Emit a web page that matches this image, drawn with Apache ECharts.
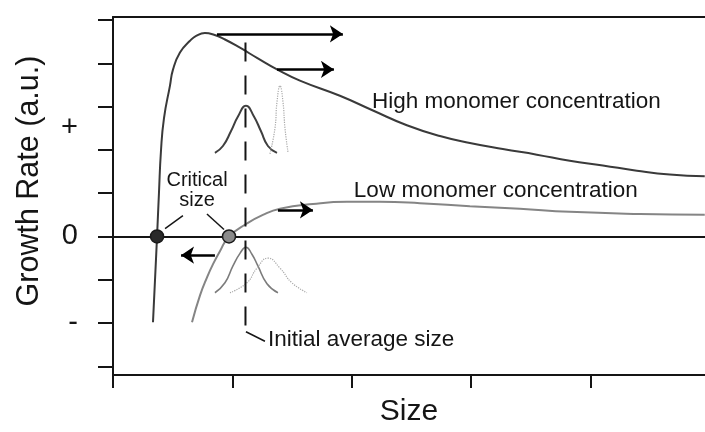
<!DOCTYPE html>
<html>
<head>
<meta charset="utf-8">
<script src="https://cdn.jsdelivr.net/npm/echarts@6/dist/echarts.min.js"></script>
<style>
  html, body { margin: 0; padding: 0; background: #fff; }
  #chart { width: 705px; height: 432px; }
</style>
</head>
<body>
<div id="chart"></div>
<script>
// Growth rate (arbitrary units) versus particle size
const highMonomer = [
  [0.335, -1.98], [0.352, -1.00], [0.369, 0], [0.385, 1.00], [0.402, 1.98],
  [0.427, 2.73], [0.477, 3.48], [0.503, 3.86], [0.561, 4.25], [0.645, 4.52],
  [0.700, 4.64], [0.770, 4.70], [0.846, 4.66], [0.938, 4.55], [1.064, 4.36],
  [1.210, 4.12], [1.374, 3.86], [1.566, 3.60], [1.901, 3.25], [2.178, 2.91],
  [2.462, 2.57], [2.739, 2.32], [2.990, 2.16], [3.266, 2.02], [3.551, 1.89],
  [3.827, 1.75], [4.104, 1.64], [4.389, 1.52], [4.665, 1.43], [4.958, 1.39]
];
const lowMonomer = [
  [0.662, -1.98], [0.729, -1.36], [0.787, -0.95], [0.838, -0.64], [0.896, -0.34],
  [0.972, 0], [1.122, 0.30], [1.256, 0.50], [1.399, 0.64], [1.675, 0.75],
  [1.960, 0.80], [2.236, 0.80], [2.571, 0.77], [2.990, 0.70], [3.409, 0.64],
  [3.827, 0.57], [4.414, 0.52], [4.958, 0.50]
];

// Size distributions sketched above / below the axis
const distHighInitial = [
  [0.854, 1.93], [0.921, 2.09], [0.988, 2.43], [1.047, 2.77], [1.114, 3.02],
  [1.181, 2.77], [1.240, 2.43], [1.298, 2.09], [1.374, 1.93]
];
const distHighLater = [
  [1.315, 1.91], [1.357, 2.50], [1.374, 3.11], [1.399, 3.48],
  [1.424, 3.11], [1.441, 2.50], [1.466, 1.95]
];
const distLowInitial = [
  [0.854, -1.30], [0.938, -1.07], [1.005, -0.68], [1.064, -0.39], [1.114, -0.25],
  [1.164, -0.41], [1.214, -0.68], [1.290, -1.09], [1.382, -1.30]
];
const distLowLater = [
  [0.980, -1.30], [1.122, -1.07], [1.206, -0.73], [1.298, -0.50],
  [1.399, -0.73], [1.499, -1.07], [1.625, -1.30]
];

// Initial average size marker
const initialSizeLine = [[1.110, 4.48], [1.110, -2.20]];
const initialSizeLeader = [[1.114, -2.20], [1.273, -2.42]];

// Critical sizes (zero growth rate)
const criticalPoints = [[0.369, 0], [0.972, 0]];
const criticalLeaders = [
  [[0.436, 0.18], [0.586, 0.48]],
  [[0.787, 0.52], [0.930, 0.16]]
];

// Direction of size change
const growthArrows = [
  [[0.871, 4.68], [1.926, 4.68]],
  [[1.374, 3.86], [1.851, 3.86]],
  [[1.382, 0.614], [1.675, 0.614]],
  [[0.854, -0.432], [0.570, -0.432]]
];

// Text annotations: [x, y, text]
const notesRight = [
  [2.169, 3.11, 'High monomer concentration'],
  [2.018, 1.05, 'Low monomer concentration'],
  [1.298, -2.39, 'Initial average size']
];
const notesCenter = [[0.704, 1.07, 'Critical\nsize']];

// Axis ticks and labels
const yTicks = [-3, -2, -1, 0, 1, 2, 3, 4, 5];
const yLabelValues = [2.5, 0, -2];
const yLabelText = { '2.5': '+', '0': '0', '-2': '-' };
const xTicks = [0, 1, 2, 3, 4];

const FONT = '"Liberation Sans", Arial, Helvetica, sans-serif';
const INK = '#151515';

const chart = echarts.init(document.getElementById('chart'), null, { renderer: 'canvas' });

const curve = (name, data, color, width, type, smooth) => ({
  name, type: 'line', data, smooth: smooth === undefined ? 0.5 : smooth,
  showSymbol: false, silent: true, z: 3,
  lineStyle: { color, width, type: type || 'solid' }
});

chart.setOption({
  animation: false,
  backgroundColor: '#ffffff',
  grid: { left: 113, right: 0, top: 17, bottom: 51, containLabel: false },
  xAxis: [{
    type: 'value', min: 0, max: 4.96, position: 'bottom',
    name: 'Size', nameLocation: 'middle', nameGap: 22,
    nameTextStyle: { fontFamily: FONT, fontSize: 30, color: INK },
    axisLine: { show: true, onZero: false, lineStyle: { color: INK, width: 2 } },
    axisTick: { show: true, customValues: xTicks, length: 13, inside: false, lineStyle: { color: INK, width: 2 } },
    axisLabel: { show: false },
    splitLine: { show: false }
  }, {
    type: 'value', min: 0, max: 4.96, position: 'top',
    axisLine: { show: true, onZero: false, lineStyle: { color: INK, width: 2 } },
    axisTick: { show: false }, axisLabel: { show: false }, splitLine: { show: false }
  }],
  yAxis: {
    type: 'value', min: -3.2, max: 5.07,
    name: 'Growth Rate (a.u.)', nameLocation: 'middle', nameGap: 68,
    nameTextStyle: { fontFamily: FONT, fontSize: 30.5, color: INK, padding: [0, 0, 0, 30] },
    axisLine: { show: true, onZero: false, lineStyle: { color: INK, width: 2 } },
    axisTick: { show: true, customValues: yTicks, length: 15, inside: false, lineStyle: { color: INK, width: 2 } },
    axisLabel: {
      show: true, customValues: yLabelValues, margin: 35,
      fontFamily: FONT, fontSize: 29, color: INK,
      formatter: v => yLabelText[String(v)]
    },
    splitLine: { show: false }
  },
  series: [
    Object.assign(curve('High monomer concentration', highMonomer, '#3a3a3a', 2), {
      markLine: {
        silent: true, symbol: ['none', 'none'], label: { show: false },
        lineStyle: { color: INK, width: 2, type: 'solid' },
        data: [{ yAxis: 0 }]
      }
    }),
    curve('Low monomer concentration', lowMonomer, '#858585', 2),
    curve('dist-high-initial', distHighInitial, '#3f3f3f', 2),
    curve('dist-high-later', distHighLater, '#a8a8a8', 1.2, 'dotted'),
    curve('dist-low-initial', distLowInitial, '#7c7c7c', 1.6),
    curve('dist-low-later', distLowLater, '#a8a8a8', 1.2, 'dotted'),
    {
      name: 'initial-size', type: 'line', data: initialSizeLine, showSymbol: false, silent: true, z: 4,
      lineStyle: { color: INK, width: 2, type: [19, 14] }
    },
    {
      name: 'initial-size-leader', type: 'line', data: initialSizeLeader, showSymbol: false, silent: true, z: 4,
      lineStyle: { color: INK, width: 1.5 }
    },
    {
      name: 'critical-leaders', type: 'lines', coordinateSystem: 'cartesian2d', silent: true, z: 4,
      lineStyle: { color: INK, width: 1.5, opacity: 1 },
      data: criticalLeaders.map(c => ({ coords: c }))
    },
    {
      name: 'arrows', type: 'lines', coordinateSystem: 'cartesian2d', silent: true, z: 5,
      symbol: ['none', 'arrow'], symbolSize: 13,
      lineStyle: { color: '#000', width: 2.5, opacity: 1 },
      data: growthArrows.map(c => ({ coords: c }))
    },
    {
      name: 'critical-size', type: 'scatter', data: criticalPoints, symbolSize: 13, silent: true, z: 6,
      itemStyle: {
        opacity: 1,
        color: p => (p.dataIndex === 0 ? '#2a2a2a' : '#8a8a8a'),
        borderColor: '#1a1a1a', borderWidth: 1.5
      }
    },
    {
      name: 'notes-right', type: 'scatter', symbolSize: 0, silent: true, z: 7,
      data: notesRight, itemStyle: { opacity: 1 },
      label: {
        show: true, position: 'right', distance: 0, opacity: 1,
        formatter: p => p.value[2],
        fontFamily: FONT, fontSize: 22.5, color: INK
      }
    },
    {
      name: 'notes-center', type: 'scatter', symbolSize: 0, silent: true, z: 7,
      data: notesCenter, itemStyle: { opacity: 1 },
      label: {
        show: true, position: 'inside', align: 'center', verticalAlign: 'middle', opacity: 1,
        formatter: p => p.value[2], lineHeight: 20,
        fontFamily: FONT, fontSize: 20, color: INK
      }
    }
  ]
});
</script>
</body>
</html>
